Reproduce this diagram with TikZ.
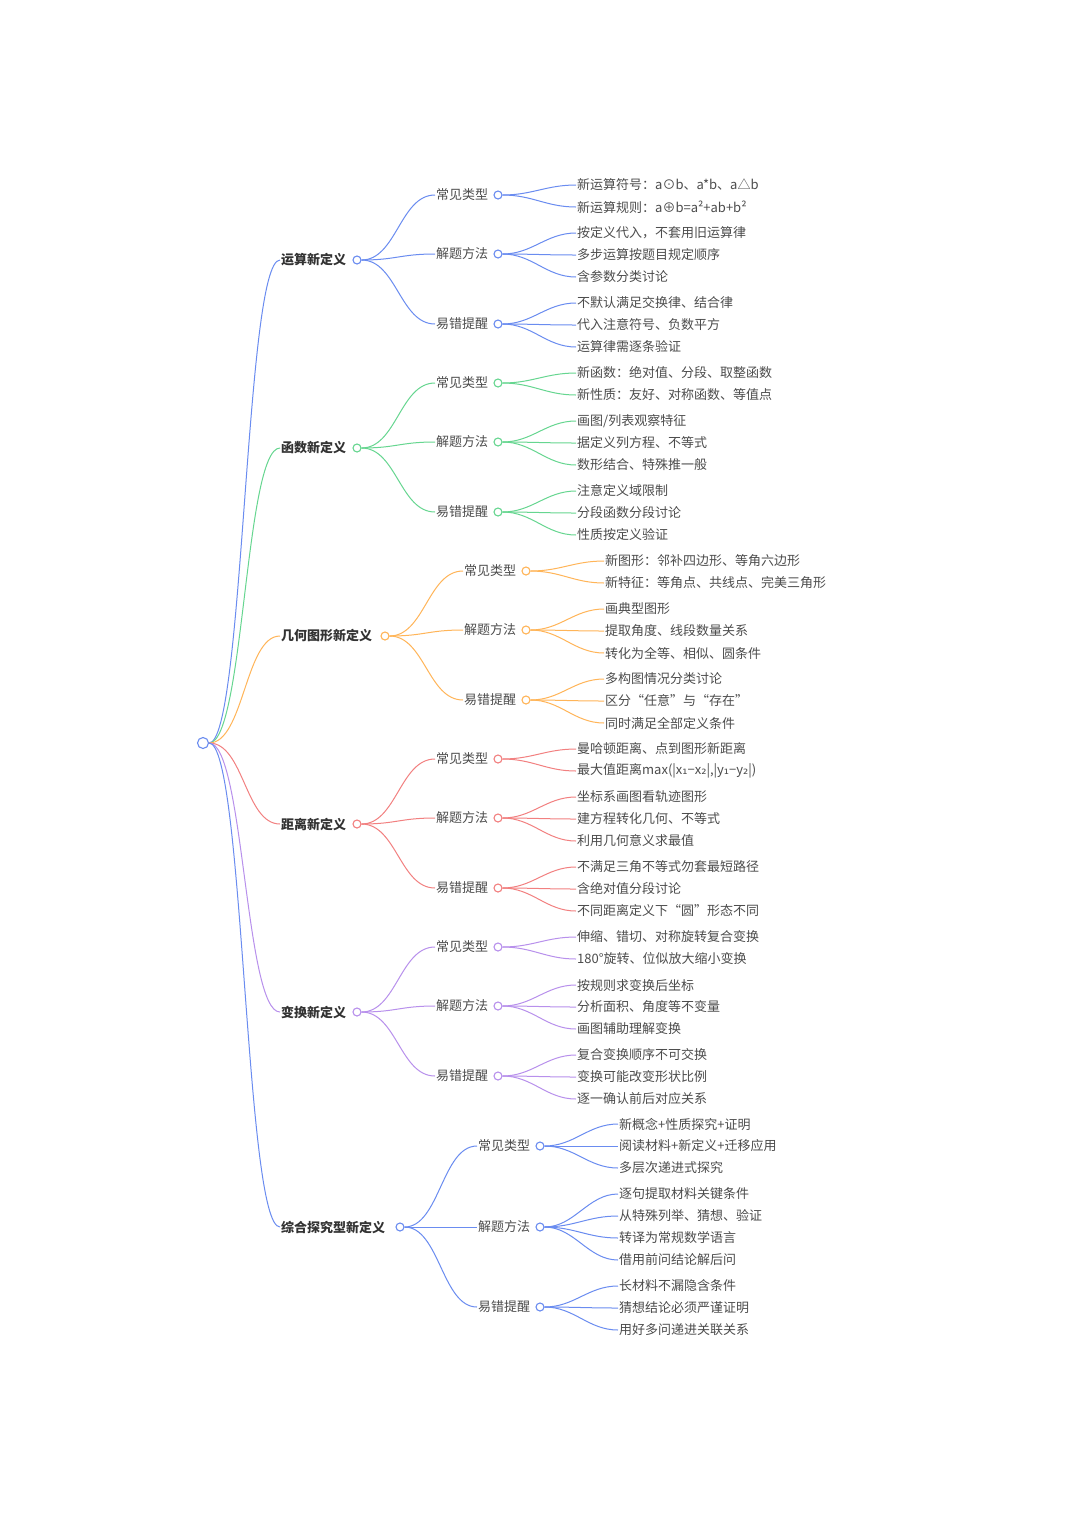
\documentclass[tikz,border=0pt]{standalone}
\usepackage{fontspec}
\setmainfont{Noto Sans CJK SC}
\newfontfamily\djv{DejaVu Sans}
\begin{document}
\begin{tikzpicture}[x=1pt,y=-1pt,
  lone/.style={font=\fontsize{13}{14}\selectfont\bfseries,text=black!80,inner sep=1pt,anchor=west},
  ltwo/.style={font=\fontsize{13}{14}\selectfont,text=black!70,inner sep=1pt,anchor=west},
  leaf/.style={font=\fontsize{13}{14}\selectfont,text=black!70,inner sep=1pt,anchor=west},
  dot/.style={circle,draw=#1,fill=white,line width=1.1pt,minimum size=8pt,inner sep=0pt},
  conn/.style={line width=1pt}]
\definecolor{cb}{HTML}{6A8CF0}
\definecolor{cg}{HTML}{66D690}
\definecolor{co}{HTML}{FFB558}
\definecolor{cr}{HTML}{F28080}
\definecolor{cp}{HTML}{B890EC}
\useasboundingbox (0,0) rectangle (1080,1527);
\fill[white] (0,0) rectangle (1080,1527);
\newcommand\cv[3]{\draw[#1,conn] (#2) .. controls +(35,0) and +(-35,0) .. (#3);}
\newcommand\branch[9]{%
  \node[lone] (#1) at (280,#2) {#3};
  \cv{#4}{r.east}{#1.west}
  \node[dot=#4] (#1c) at (#5,#2) {};
  \def\bcol{#4}\def\bname{#1}\def\ltx{#6}\def\lcx{#7}\def\leafx{#8}
}
\newcommand\sub[3]{%
  \node[ltwo] (#1) at (\ltx,#2) {#3};
  \cv{\bcol}{\bname c.east}{#1.west}
  \node[dot=\bcol] (#1c) at (\lcx,#2) {};
}
\newcommand\lf[4]{%
  \node[leaf] (#1) at (\leafx,#3) {#4};
  \draw[\bcol,conn] (#2c.east) .. controls +(30,0) and +(-30,0) .. (#1.west);
}
\node[dot=cb,minimum size=11pt] (r) at (203,743) {};
\branch{a}{260}{运算新定义}{cb}{357}{435}{498}{576}{}
\sub{a1}{195}{常见类型}\sub{a2}{254}{解题方法}\sub{a3}{324}{易错提醒}
\lf{a11}{a1}{185}{新运算符号：a⊙b、a*b、a△b}
\lf{a12}{a1}{207}{新运算规则：a⊕b=a²+ab+b²}
\lf{a21}{a2}{233}{按定义代入，不套用旧运算律}
\lf{a22}{a2}{255}{多步运算按题目规定顺序}
\lf{a23}{a2}{277}{含参数分类讨论}
\lf{a31}{a3}{303}{不默认满足交换律、结合律}
\lf{a32}{a3}{325}{代入注意符号、负数平方}
\lf{a33}{a3}{347}{运算律需逐条验证}
\branch{b}{448}{函数新定义}{cg}{357}{435}{498}{576}{}
\sub{b1}{383}{常见类型}\sub{b2}{442}{解题方法}\sub{b3}{512}{易错提醒}
\lf{b11}{b1}{373}{新函数：绝对值、分段、取整函数}
\lf{b12}{b1}{395}{新性质：友好、对称函数、等值点}
\lf{b21}{b2}{421}{画图/列表观察特征}
\lf{b22}{b2}{443}{据定义列方程、不等式}
\lf{b23}{b2}{465}{数形结合、特殊推一般}
\lf{b31}{b3}{491}{注意定义域限制}
\lf{b32}{b3}{513}{分段函数分段讨论}
\lf{b33}{b3}{535}{性质按定义验证}
\branch{c}{636}{几何图形新定义}{co}{385}{463}{526}{604}{}
\sub{c1}{571}{常见类型}\sub{c2}{630}{解题方法}\sub{c3}{700}{易错提醒}
\lf{c11}{c1}{561}{新图形：邻补四边形、等角六边形}
\lf{c12}{c1}{583}{新特征：等角点、共线点、完美三角形}
\lf{c21}{c2}{609}{画典型图形}
\lf{c22}{c2}{631}{提取角度、线段数量关系}
\lf{c23}{c2}{653}{转化为全等、相似、圆条件}
\lf{c31}{c3}{679}{多构图情况分类讨论}
\lf{c32}{c3}{701}{区分“任意”与“存在”}
\lf{c33}{c3}{723}{同时满足全部定义条件}
\branch{d}{824}{距离新定义}{cr}{357}{435}{498}{576}{}
\sub{d1}{759}{常见类型}\sub{d2}{818}{解题方法}\sub{d3}{888}{易错提醒}
\lf{d11}{d1}{749}{曼哈顿距离、点到图形新距离}
\lf{d12}{d1}{771}{最大值距离max(|x{\djv ₁}−x{\djv ₂}|,|y{\djv ₁}−y{\djv ₂}|)}
\lf{d21}{d2}{797}{坐标系画图看轨迹图形}
\lf{d22}{d2}{819}{建方程转化几何、不等式}
\lf{d23}{d2}{841}{利用几何意义求最值}
\lf{d31}{d3}{867}{不满足三角不等式勿套最短路径}
\lf{d32}{d3}{889}{含绝对值分段讨论}
\lf{d33}{d3}{911}{不同距离定义下“圆”形态不同}
\branch{e}{1012}{变换新定义}{cp}{357}{435}{498}{576}{}
\sub{e1}{947}{常见类型}\sub{e2}{1006}{解题方法}\sub{e3}{1076}{易错提醒}
\lf{e11}{e1}{937}{伸缩、错切、对称旋转复合变换}
\lf{e12}{e1}{959}{180°旋转、位似放大缩小变换}
\lf{e21}{e2}{985}{按规则求变换后坐标}
\lf{e22}{e2}{1007}{分析面积、角度等不变量}
\lf{e23}{e2}{1029}{画图辅助理解变换}
\lf{e31}{e3}{1055}{复合变换顺序不可交换}
\lf{e32}{e3}{1077}{变换可能改变形状比例}
\lf{e33}{e3}{1099}{逐一确认前后对应关系}
\branch{f}{1227}{综合探究型新定义}{cb}{400}{477}{540}{618}{}
\sub{f1}{1146}{常见类型}\sub{f2}{1227}{解题方法}\sub{f3}{1307}{易错提醒}
\lf{f11}{f1}{1124}{新概念+性质探究+证明}
\lf{f12}{f1}{1146}{阅读材料+新定义+迁移应用}
\lf{f13}{f1}{1168}{多层次递进式探究}
\lf{f21}{f2}{1194}{逐句提取材料关键条件}
\lf{f22}{f2}{1216}{从特殊列举、猜想、验证}
\lf{f23}{f2}{1238}{转译为常规数学语言}
\lf{f24}{f2}{1260}{借用前问结论解后问}
\lf{f31}{f3}{1286}{长材料不漏隐含条件}
\lf{f32}{f3}{1308}{猜想结论必须严谨证明}
\lf{f33}{f3}{1330}{用好多问递进关联关系}
\end{tikzpicture}
\end{document}
